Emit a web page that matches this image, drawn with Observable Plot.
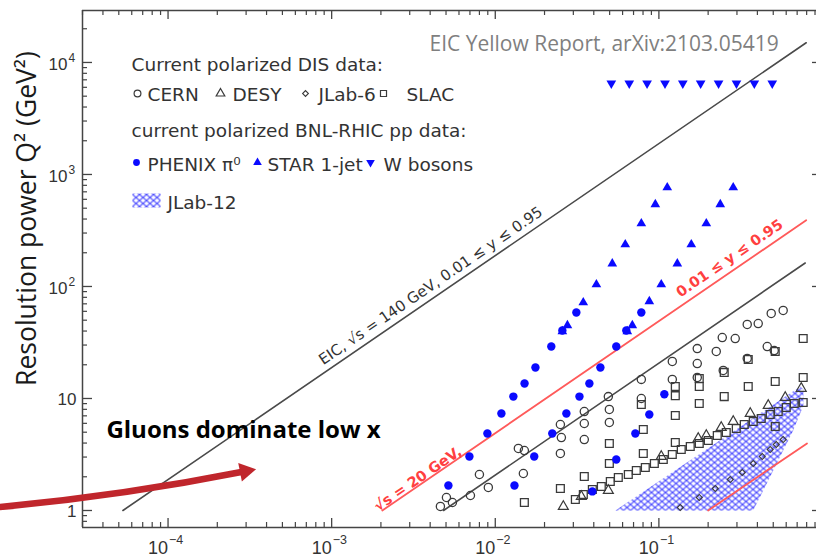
<!DOCTYPE html>
<html><head><meta charset="utf-8">
<script src="https://cdn.jsdelivr.net/npm/d3@7"></script>
<script src="https://cdn.jsdelivr.net/npm/@observablehq/plot@0.6"></script>
<style>
body{margin:0;background:#fff}
#chart{width:816px;height:558px;overflow:hidden}
</style></head><body><div id="chart"></div>
<script>
// ---- data: [x, Q2 (GeV^2)] ----
const cern = [
 [0.00462,1.086],[0.00503,1.306],[0.00547,1.179],[0.00705,1.361],[0.0080,2.096],[0.00907,1.605],
 [0.01384,3.58],[0.01506,3.43],[0.01485,2.14],[0.0250,3.23],[0.02535,4.48],[0.0250,5.86],
 [0.035,4.30],[0.035,5.98],[0.035,7.65],[0.0498,6.11],[0.0498,7.98],[0.0491,10.4],
 [0.0781,10.0],[0.0781,14.8],[0.1208,14.8],[0.1208,21.4],[0.1716,15.4],[0.1716,20.5],[0.1716,27.9],
 [0.2242,26.3],[0.2440,35.0],[0.2928,34.3],[0.3467,45.8],[0.4047,46.7],[0.486,57.4],[0.575,61.1],
 [0.2473,17.8],[0.3467,22.8],[0.4595,29.1],[0.507,26.8]
];
const desy = [
 [0.02606,1.086],[0.03357,1.334],[0.0491,1.509],[0.1034,3.03],[0.174,4.39],[0.1949,4.675],
 [0.2405,5.51],[0.2847,6.23],[0.3617,7.35],[0.466,8.66],[0.592,10.2],[0.7413,12.3]
];
const jlab6 = [
 [0.1351,1.063],[0.1765,1.306],[0.2211,1.571],[0.2731,1.891],[0.3232,2.184],
 [0.3773,2.63],[0.4281,3.03],[0.479,3.505],[0.5216,3.88],[0.575,4.30]
];
const slac = [
 [0.01506,1.179],[0.0250,1.571],[0.035,2.01],[0.0498,2.63],[0.0498,3.97],[0.0803,3.23],[0.0803,5.29],
 [0.0781,8.84],[0.126,4.05],[0.126,7.05],[0.126,10.6],[0.126,12.8],[0.1765,9.02],[0.1765,12.8],[0.1765,15.1],
 [0.2508,10.4],[0.2508,17.1],[0.3516,12.8],[0.3516,22.3],[0.514,14.2],[0.514,26.3],
 [0.762,15.4],[0.762,34.3],[0.762,9.21],[0.514,5.62],
 [0.03086,1.254],[0.03453,1.390],[0.0392,1.540],[0.04447,1.637],[0.05047,1.815],[0.05649,1.971],
 [0.06503,2.096],[0.07278,2.276],[0.0826,2.42],[0.0938,2.63],[0.1064,2.853],[0.1208,3.162],
 [0.1370,3.505],[0.1555,3.728],[0.1765,3.97],[0.2003,4.217],[0.2274,4.675],[0.2581,4.97],
 [0.2971,5.40],[0.3324,5.86],[0.3773,6.23],[0.4221,6.63],[0.479,7.20],[0.5363,7.65],[0.6003,8.31],[0.6717,9.02]
];
const phenix = [
 [0.00517,1.67],[0.00695,3.03],[0.00895,4.87],[0.0109,7.35],[0.0129,10.4],[0.0151,13.6],[0.0176,18.9],[0.0220,29.1],[0.0257,40.5],[0.0313,58.6],
 [0.0131,1.67],[0.0173,3.03],[0.0223,4.87],[0.0272,7.35],[0.0327,10.4],[0.0376,13.6],[0.0439,18.9],[0.0549,29.1],[0.0632,40.5],[0.0781,58.6],
 [0.0392,1.48],[0.0549,2.85],[0.0718,4.87],[0.0874,7.20],[0.108,10.9]
];
const star = [
 [0.0257,39.7],[0.0276,44.9],[0.0345,71.9],[0.0415,104],[0.0519,160],[0.0623,237],[0.0781,365],[0.0951,540],[0.1125,765],
 [0.0641,39.7],[0.0688,44.9],[0.0874,73.5],[0.1034,104],[0.1296,160],[0.1578,237],[0.1949,365],[0.2372,540],[0.2847,765]
];
const wBosons = [
 [0.0512,6500],[0.0659,6500],[0.0847,6500],[0.109,6500],[0.140,6500],
 [0.180,6500],[0.2316,6500],[0.298,6500],[0.383,6500],[0.493,6500]
];
const jlab12Region = [[0.0542,1.0],[0.731,12.8],[0.765,12.0],[0.765,8.66],[0.662,5.18],[0.5,2.28],[0.377,1.0]];
// kinematic limit lines
const eicLine = [[5.3e-5,1],[0.795,15000]];
const redLine = [[0.00204,1],[0.795,390]];
const lowLine = [[0.00483,1],[0.784,162]];
const redShort = [[0.2,1],[0.804,3.97]];
// ticks and tick labels
const xMajor = [1e-4,1e-3,1e-2,1e-1];
const xTickBase = ["10","10","10","10"];
const xTickExp = ["−4","−3","−2","−1"];
const yMajor = [1,10,100,1000,10000];
const yPlainTicks = [1,10], yPlainLabels = ["1","10"];
const yPowTicks = [100,1000,10000], yPowBase = ["10","10","10"], yPowExp = ["2","3","4"];
// annotations (data space)
const arrowData = [{x1:8.8e-6, y1:1.063, x2:2.97e-4, y2:2.24}];
const arrowTip = [[2.97e-4,2.24]];
const gluonNote = [{x:4.2e-5, y:4.48, text:"Gluons dominate low x"}];
const lineLabels = [
 {x:4.37e-3, y:82.6, text:"EIC, √s = 140 GeV, 0.01 ≤ y ≤ 0.95", color:"#333", bold:false, dx:-3, dy:-6},
 {x:0.297, y:145.6, text:"0.01 ≤ y ≤ 0.95", color:"#ff4040", bold:true, dx:-4, dy:-6},
 {x:3.54e-3, y:1.73, text:"√s = 20 GeV,", color:"#ff4040", bold:true, dx:-1, dy:-1}
];

const xDomain = [3e-5, 1], yDomain = [0.705, 29100];
const W = 816, H = 558, mL = 82, mR = -6, mT = 10, mB = 31;
const fw = W - mL - mR, fh = H - mT - mB;
const angle = -Math.atan((fh / Math.log10(yDomain[1]/yDomain[0])) / (fw / Math.log10(xDomain[1]/xDomain[0]))) * 180 / Math.PI;
const minorOf = ([lo, hi]) => { const out = []; for (let e = Math.floor(Math.log10(lo)); e <= Math.ceil(Math.log10(hi)); e++) for (let k = 2; k <= 9; k++) { const v = k * 10 ** e; if (v > lo && v < hi) out.push(v); } return out; };
const xMinor = minorOf(xDomain), yMinor = minorOf(yDomain);

const ink = "#444", blue = "#0a0aff", sym = "#3a3a3a", red = "#ff5a5a", lab = "#333";
const X = d => d[0], Y = d => d[1];
const tickFont = {fontFamily: "Liberation Sans", fill: lab};
const leg = (text, px, py, o = {}) => Plot.text([text], {text: d => d, frameAnchor: "top-left", dx: px - mL, dy: py - mT, textAnchor: "start", lineAnchor: "bottom", fontFamily: "DejaVu Sans", fontSize: 18.5, fill: "#333", ...o});
const legSym = (px, py, o) => Plot.dot([0], {frameAnchor: "top-left", dx: px - mL, dy: py - mT, ...o});
const hatchRect = {draw(ctx) { ctx.rect(-14, -7, 28, 14); }};

const chart = Plot.plot({
  width: W, height: H, marginLeft: mL, marginRight: mR, marginTop: mT, marginBottom: mB,
  style: {background: "#fff", fontFamily: "DejaVu Sans"},
  x: {type: "log", domain: xDomain, axis: null},
  y: {type: "log", domain: yDomain, axis: null},
  marks: [
    Plot.line(jlab12Region, {x: X, y: Y, curve: "linear-closed", fill: "url(#jlab12)", stroke: "none"}),
    Plot.line(eicLine, {x: X, y: Y, stroke: "#4a4a4a", strokeWidth: 1.6}),
    Plot.line(lowLine, {x: X, y: Y, stroke: "#4a4a4a", strokeWidth: 1.6}),
    Plot.line(redLine, {x: X, y: Y, stroke: red, strokeWidth: 1.8}),
    Plot.line(redShort, {x: X, y: Y, stroke: red, strokeWidth: 1.8}),
    Plot.dot(cern, {x: X, y: Y, r: 4.1, stroke: sym, strokeWidth: 1.3}),
    Plot.dot(slac, {x: X, y: Y, symbol: "square", r: 4.4, stroke: sym, strokeWidth: 1.3}),
    Plot.dot(desy, {x: X, y: Y, symbol: "triangle", r: 3.7, stroke: sym, strokeWidth: 1.2}),
    Plot.dot(jlab6, {x: X, y: Y, symbol: "square", rotate: 45, r: 2.4, stroke: sym, strokeWidth: 1.1}),
    Plot.dot(phenix, {x: X, y: Y, r: 4.2, fill: blue}),
    Plot.dot(star, {x: X, y: Y, symbol: "triangle", r: 3.6, fill: blue}),
    Plot.dot(wBosons, {x: X, y: Y, symbol: "triangle", rotate: 180, r: 3.6, fill: blue}),
    // frame
    Plot.ruleY([yDomain[0], yDomain[1]], {stroke: ink, strokeWidth: 1.5}),
    Plot.ruleX([xDomain[0]], {stroke: ink, strokeWidth: 1.5}),
    // inward ticks
    Plot.tickY(yMajor, {y: d => d, insetRight: fw - 10, stroke: ink, strokeWidth: 1.3}),
    Plot.tickY(yMinor, {y: d => d, insetRight: fw - 5, stroke: ink, strokeWidth: 1.2}),
    Plot.tickY(yMajor, {y: d => d, insetLeft: fw - 10, stroke: ink, strokeWidth: 1.3}),
    Plot.tickX(xMajor, {x: d => d, insetTop: fh - 9, stroke: ink, strokeWidth: 1.3}),
    Plot.tickX(xMinor, {x: d => d, insetTop: fh - 5, stroke: ink, strokeWidth: 1.2}),
    Plot.tickX(xMajor, {x: d => d, insetBottom: fh - 9, stroke: ink, strokeWidth: 1.3}),
    Plot.tickX(xMinor, {x: d => d, insetBottom: fh - 5, stroke: ink, strokeWidth: 1.2}),
    // tick labels
    Plot.text(xMajor, {x: d => d, text: (d, i) => xTickBase[i], frameAnchor: "bottom", dy: 26, dx: 0, textAnchor: "end", lineAnchor: "bottom", fontSize: 18, ...tickFont}),
    Plot.text(xMajor, {x: d => d, text: (d, i) => xTickExp[i], frameAnchor: "bottom", dy: 16, dx: 1, textAnchor: "start", lineAnchor: "bottom", fontSize: 12.5, ...tickFont}),
    Plot.text(yPlainTicks, {y: d => d, text: (d, i) => yPlainLabels[i], frameAnchor: "left", dx: -6, dy: 1, textAnchor: "end", lineAnchor: "middle", fontSize: 17, ...tickFont}),
    Plot.text(yPowTicks, {y: d => d, text: (d, i) => yPowBase[i], frameAnchor: "left", dx: -15, dy: 2, textAnchor: "end", lineAnchor: "middle", fontSize: 17, ...tickFont}),
    Plot.text(yPowTicks, {y: d => d, text: (d, i) => yPowExp[i], frameAnchor: "left", dx: -14, dy: -4, textAnchor: "start", lineAnchor: "middle", fontSize: 12, ...tickFont}),
    // axis title
    Plot.text(["Resolution power Q² (GeV²)"], {text: d => d, frameAnchor: "left", rotate: -90, dx: 35 - mL, dy: 218 - (mT + fh / 2), textAnchor: "middle", lineAnchor: "bottom", fontFamily: "Open Sans", fontSize: 26.5, fill: "#1a1a1a"}),
    // line labels
    ...lineLabels.map(l => Plot.text([l], {x: "x", y: "y", text: "text", rotate: angle, textAnchor: "middle", lineAnchor: "bottom", dx: l.dx, dy: l.dy, fill: l.color, fontWeight: l.bold ? "bold" : "normal", fontFamily: "DejaVu Sans", fontSize: l.bold ? 14.5 : 15})),
    // source note
    Plot.text(["EIC Yellow Report, arXiv:2103.05419"], {text: d => d, frameAnchor: "top-left", dx: 429 - mL, dy: 50 - mT, textAnchor: "start", lineAnchor: "bottom", fontFamily: "Open Sans", fontSize: 21, fill: "#7f7f7f"}),
    // annotation + arrow
    Plot.text(gluonNote, {x: "x", y: "y", text: "text", textAnchor: "start", lineAnchor: "bottom", fontFamily: "Open Sans", fontWeight: "bold", fontSize: 24, fill: "#000"}),
    Plot.arrow(arrowData, {x1: "x1", y1: "y1", x2: "x2", y2: "y2", bend: -3, headLength: 0, stroke: "#c0262c", strokeWidth: 6.5}),
    Plot.dot(arrowTip, {x: X, y: Y, symbol: "triangle", rotate: 79, r: 7, fill: "#c0262c"}),
    // legend
    leg("Current polarized DIS data:", 131, 70),
    legSym(137, 93, {r: 3.4, stroke: sym, strokeWidth: 1.2}),
    leg("CERN", 147, 100),
    legSym(220, 93, {symbol: "triangle", r: 3.2, stroke: sym, strokeWidth: 1.2}),
    leg("DESY", 232, 100),
    legSym(305, 93, {symbol: "square", rotate: 45, r: 2.3, stroke: sym, strokeWidth: 1.1}),
    leg("JLab-6", 318, 100),
    legSym(383, 93, {symbol: "square", r: 3.4, stroke: sym, strokeWidth: 1.2}),
    leg("SLAC", 406, 100),
    leg("current polarized BNL-RHIC pp data:", 131, 136),
    legSym(136, 162, {r: 3.4, fill: blue}),
    leg("PHENIX π⁰", 147, 170),
    legSym(257, 162, {symbol: "triangle", r: 3.2, fill: blue}),
    leg("STAR 1-jet", 267, 170),
    legSym(370, 162, {symbol: "triangle", rotate: 180, r: 3.2, fill: blue}),
    leg("W bosons", 383, 170),
    legSym(146, 200, {symbol: hatchRect, fill: "url(#jlab12)"}),
    leg("JLab-12", 167, 208)
  ]
});
// cross-hatch pattern for the JLab-12 region
const NS = "http://www.w3.org/2000/svg";
const defs = document.createElementNS(NS, "defs");
const pat = document.createElementNS(NS, "pattern");
pat.setAttribute("id", "jlab12"); pat.setAttribute("patternUnits", "userSpaceOnUse");
pat.setAttribute("width", "7"); pat.setAttribute("height", "6");
const pth = document.createElementNS(NS, "path");
pth.setAttribute("d", "M0,0L7,6M7,0L0,6"); pth.setAttribute("stroke", "#4a4aff");
pth.setAttribute("stroke-width", "1.1"); pth.setAttribute("fill", "none");
pat.appendChild(pth); defs.appendChild(pat);
chart.insertBefore(defs, chart.firstChild);
document.getElementById("chart").appendChild(chart);
</script></body></html>
